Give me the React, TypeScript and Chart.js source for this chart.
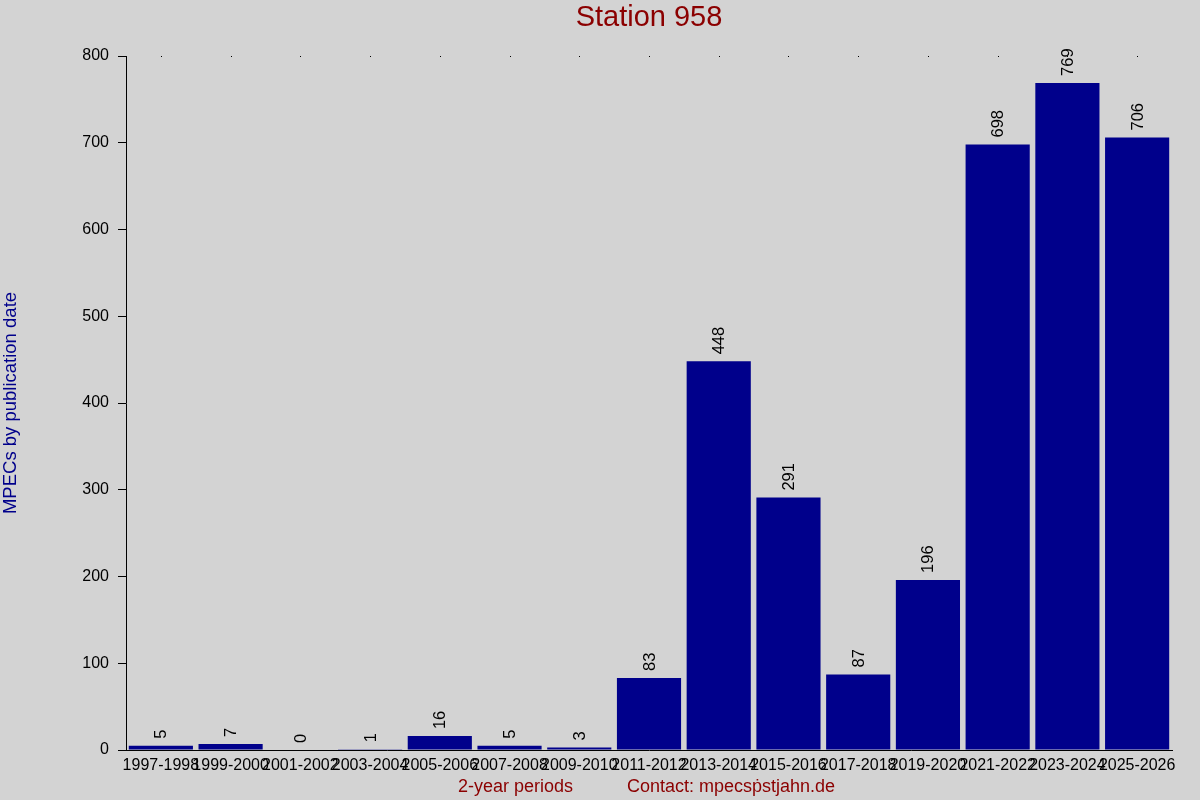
import { Chart, registerables, type ChartConfiguration, type Plugin } from 'chart.js';
import { useEffect, useRef } from 'react';

Chart.register(...registerables);

const periods = [
  '1997-1998', '1999-2000', '2001-2002', '2003-2004', '2005-2006',
  '2007-2008', '2009-2010', '2011-2012', '2013-2014', '2015-2016',
  '2017-2018', '2019-2020', '2021-2022', '2023-2024', '2025-2026',
];
const mpecCounts = [5, 7, 0, 1, 16, 5, 3, 83, 448, 291, 87, 196, 698, 769, 706];
const yTicks = [0, 100, 200, 300, 400, 500, 600, 700, 800];

const FONT = '"Liberation Sans", Arial, Helvetica, sans-serif';
const BG = '#D3D3D3';
const BAR = '#00008B';
const RED = '#8B0000';

export default function App() {
  const canvasRef = useRef<HTMLCanvasElement>(null);

  useEffect(() => {
    const canvas = canvasRef.current;
    if (!canvas) return;
    const ctx = canvas.getContext('2d');
    if (!ctx) return;

    const decor: Plugin = {
      id: 'decor',
      beforeDraw(c) {
        const g = c.ctx;
        g.save();
        g.fillStyle = BG;
        g.fillRect(0, 0, c.width, c.height);
        g.restore();
      },
      afterDatasetsDraw(c) {
        const g = c.ctx;
        const area = c.chartArea;
        const xs = c.scales.x;
        g.save();
        // tiny dots at the top edge above each category
        g.fillStyle = '#000';
        periods.forEach((_, i) => {
          const px = Math.round(xs.getPixelForTick(i));
          g.fillRect(px, area.top, 1, 1);
        });
        // value labels, rotated
        const meta = c.getDatasetMeta(0);
        g.font = '16.5px ' + FONT;
        g.fillStyle = '#000';
        g.textAlign = 'left';
        g.textBaseline = 'middle';
        meta.data.forEach((el, i) => {
          const { x, y } = el.getProps(['x', 'y'], true) as { x: number; y: number };
          g.save();
          g.translate(x + 1, y - 7);
          g.rotate(-Math.PI / 2);
          g.fillText(String(mpecCounts[i]), 0, 0);
          g.restore();
        });
        // title
        g.fillStyle = RED;
        g.font = '29px ' + FONT;
        g.textAlign = 'center';
        g.textBaseline = 'middle';
        g.fillText('Station 958', (area.left + area.right) / 2, 18);
        // y title
        g.save();
        g.translate(11, (area.top + area.bottom) / 2);
        g.rotate(-Math.PI / 2);
        g.fillStyle = BAR;
        g.font = '18.5px ' + FONT;
        g.fillText('MPECs by publication date', 0, 0);
        g.restore();
        // bottom texts
        g.fillStyle = RED;
        g.font = '18px ' + FONT;
        g.textAlign = 'left';
        g.textBaseline = 'alphabetic';
        g.fillText('2-year periods', 458, 792);
        g.fillText('Contact: mpecs\u1E57stjahn.de', 627, 792);
        g.restore();
      },
    };

    const config: ChartConfiguration<'bar'> = {
      type: 'bar',
      data: {
        labels: periods,
        datasets: [
          {
            data: mpecCounts,
            backgroundColor: BAR,
            borderWidth: 0,
            barPercentage: 0.92,
            categoryPercentage: 1,
          },
        ],
      },
      options: {
        responsive: false,
        animation: false,
        devicePixelRatio: 1,
        layout: { padding: { left: 0, right: 28, top: 56, bottom: 0 } },
        plugins: {
          legend: { display: false },
          tooltip: { enabled: false },
          title: { display: false },
        },
        scales: {
          x: {
            grid: { display: false, drawTicks: false },
            border: { display: true, color: '#000', width: 1 },
            ticks: {
              autoSkip: false,
              maxRotation: 0,
              minRotation: 0,
              padding: 6,
              color: '#000',
              font: { family: FONT, size: 16 },
            },
            afterFit: (s) => {
              s.height = 50;
            },
          },
          y: {
            min: 0,
            max: 800,
            afterBuildTicks: (s) => {
              s.ticks = yTicks.map((v) => ({ value: v }));
            },
            grid: {
              display: true,
              drawOnChartArea: false,
              drawTicks: true,
              tickLength: 8,
              color: '#000',
            },
            border: { display: true, color: '#000', width: 1 },
            ticks: {
              padding: 9,
              color: '#000',
              font: { family: FONT, size: 16 },
            },
            afterFit: (s) => {
              s.width = 126;
            },
          },
        },
      },
      plugins: [decor],
    };

    const chart = new Chart(ctx, config);
    return () => {
      chart.destroy();
    };
  }, []);

  return (
    <div style={{ position: 'absolute', left: 0, top: 0, width: 1200, height: 800, background: BG }}>
      <canvas ref={canvasRef} width={1200} height={800} />
    </div>
  );
}
